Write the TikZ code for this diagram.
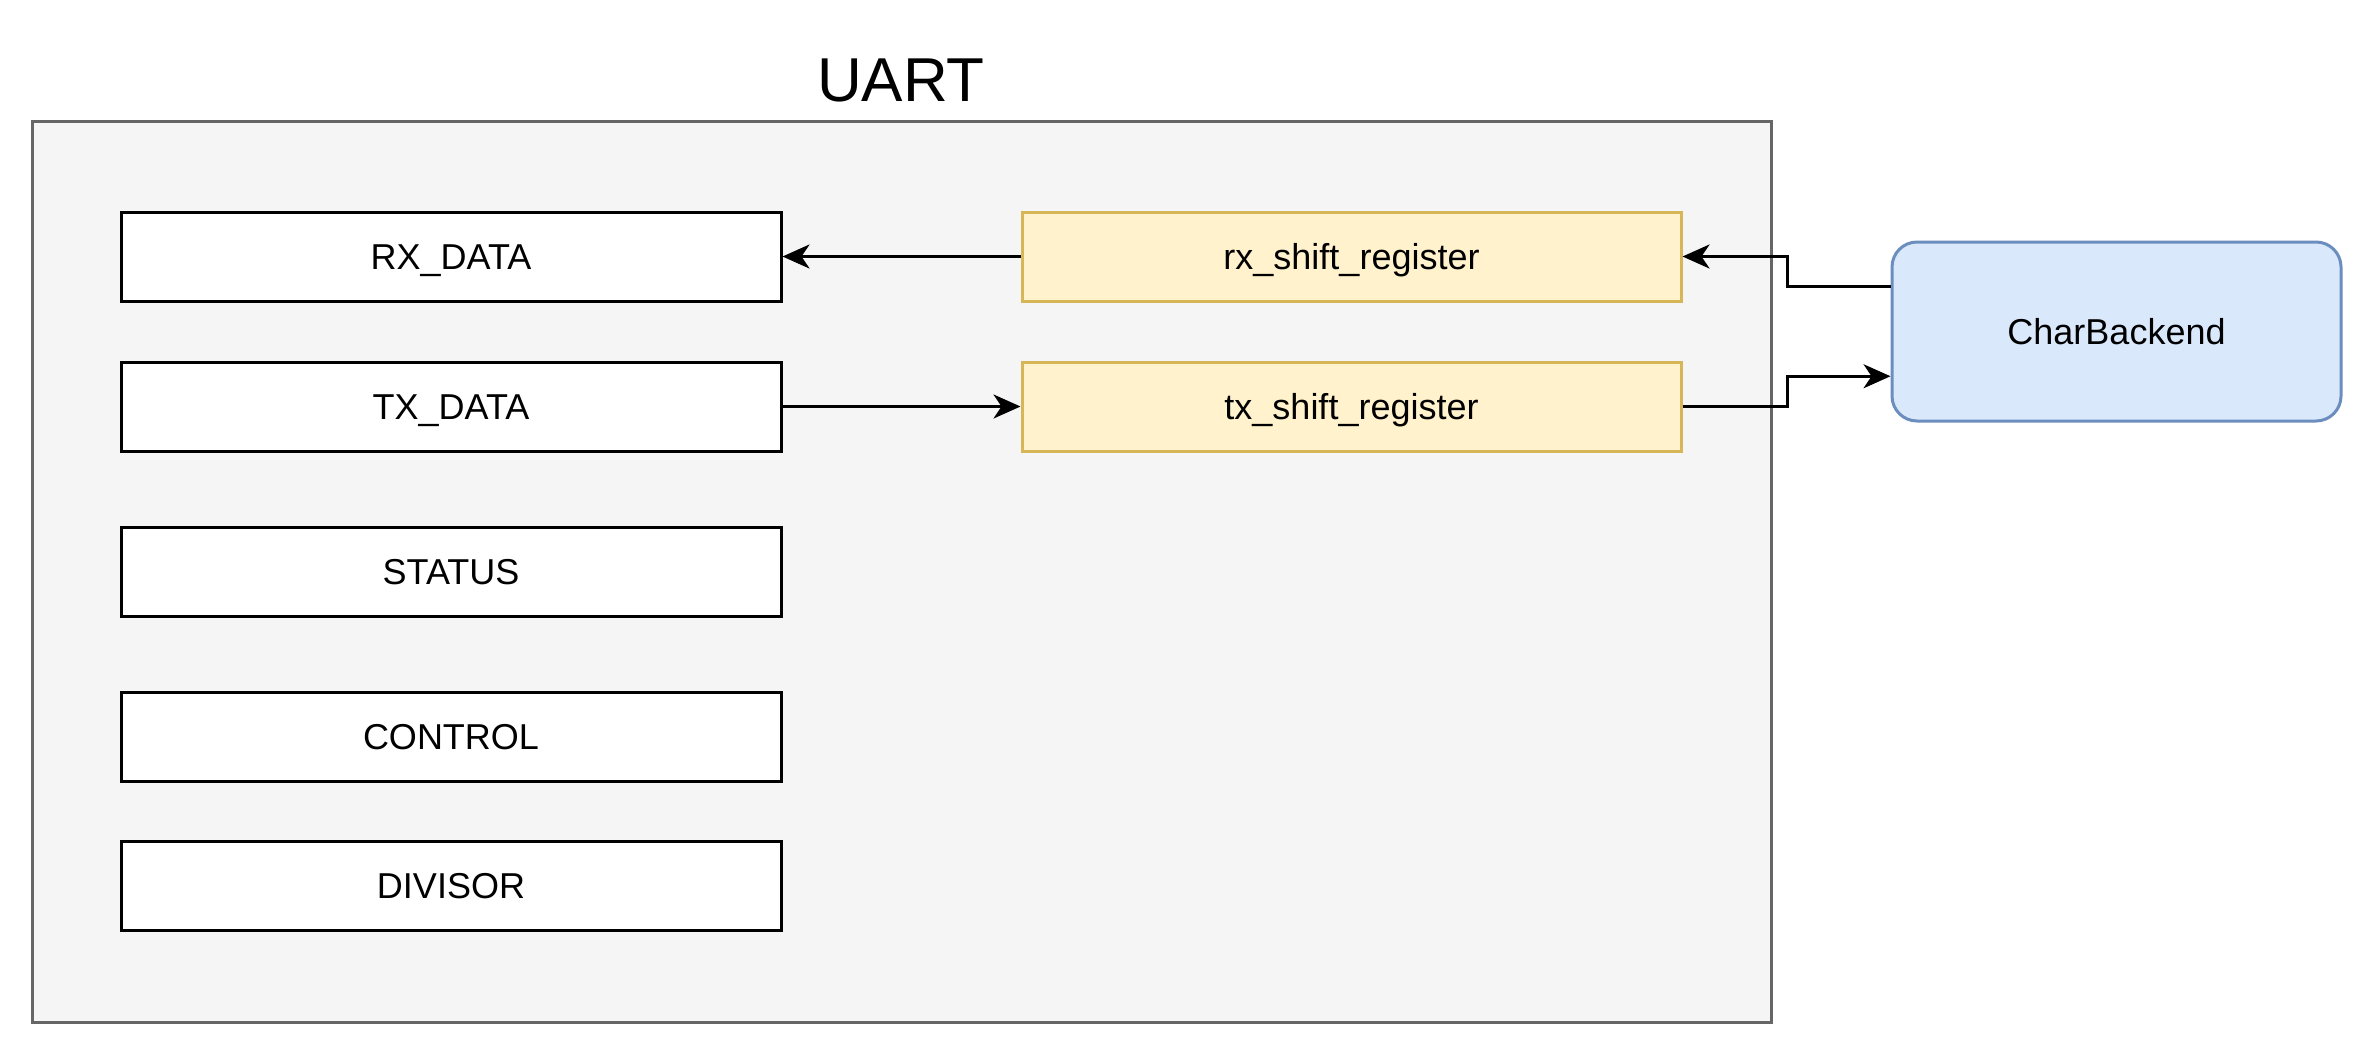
\documentclass[tikz,border=0pt]{standalone}
\usepackage{fontspec}
\setmainfont{Liberation Sans}
\usetikzlibrary{arrows.meta}
\definecolor{grpfill}{HTML}{F5F5F5}
\definecolor{grpline}{HTML}{666666}
\definecolor{yfill}{HTML}{FFF2CC}
\definecolor{yline}{HTML}{D6B656}
\definecolor{bfill}{HTML}{DAE8FC}
\definecolor{bline}{HTML}{6C8EBF}
\tikzset{
  lbl/.style={font=\fontsize{36}{43}\selectfont, text height=25.5pt, text depth=0pt, inner sep=0pt},
  regbox/.style={lbl, draw=black, fill=white, line width=3pt, minimum width=660pt, minimum height=89pt},
  shiftbox/.style={lbl, draw=yline, fill=yfill, line width=3pt, minimum width=659pt, minimum height=89pt},
  backbox/.style={lbl, draw=bline, fill=bfill, line width=3pt, rounded corners=25pt, minimum width=449pt, minimum height=179pt},
  conn/.style={line width=3pt, -{Stealth[length=27pt, width=24pt, inset=8pt]}}
}
\begin{document}
\begin{tikzpicture}[x=1pt, y=-1pt]
\useasboundingbox (0,0) rectangle (2373,1053);
\node[draw=grpline, fill=grpfill, line width=3pt, minimum width=1739pt, minimum height=901pt, inner sep=0pt] (uart) at (901.5,571.5) {};
\node[font=\fontsize{62}{74}\selectfont, text height=44.5pt, text depth=0pt, inner sep=0pt] (title) at (901,79) {UART};
\node[regbox] (rxd) at (451,256.5) {RX\_DATA};
\node[regbox] (txd) at (451,406.5) {TX\_DATA};
\node[regbox] (st) at (451,571.5) {STATUS};
\node[regbox] (ctl) at (451,736.5) {CONTROL};
\node[regbox] (div) at (451,886) {DIVISOR};
\node[shiftbox] (rxs) at (1351.5,256.5) {rx\_shift\_register};
\node[shiftbox] (txs) at (1351.5,406.5) {tx\_shift\_register};
\node[backbox] (cb) at (2116.5,331.5) {CharBackend};
\coordinate (cbout) at ([yshift=44.75pt]cb.west);
\coordinate (cbin) at ([yshift=-44.75pt]cb.west);
\draw[conn] (rxs.west) -- (rxd.east);
\draw[conn] (txd.east) -- (txs.west);
\draw[conn] (cbout) -- (1787,286.75) |- (rxs.east);
\draw[conn] (txs.east) -- (1787,406.5) |- (cbin);
\end{tikzpicture}
\end{document}
